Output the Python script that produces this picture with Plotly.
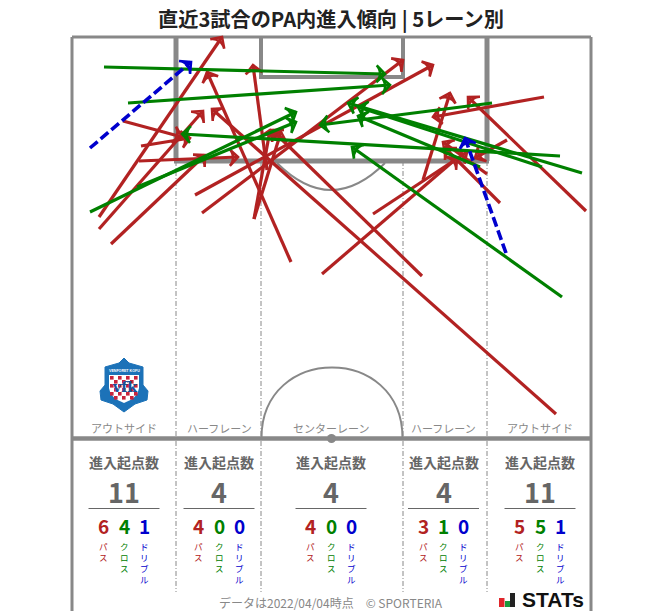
import plotly.graph_objects as go

TITLE = "直近3試合のPA内進入傾向 | 5レーン別"
FOOTER = "データは2022/04/04時点　© SPORTERIA"
LANES = ["アウトサイド", "ハーフレーン", "センターレーン", "ハーフレーン", "アウトサイド"]
LANE_CENTERS = [124, 219, 331, 443.5, 540]
TOTALS = [11, 4, 4, 4, 11]
PASS_COUNTS = [6, 4, 4, 3, 5]
CROSS_COUNTS = [4, 0, 0, 1, 5]
DRIBBLE_COUNTS = [1, 0, 0, 0, 1]

# arrows: (start x, start y, end x, end y) on the pitch, y downwards
PASSES = [
    (99, 217, 222, 37), (99, 229, 203, 111), (111, 244, 205, 155),
    (123, 121, 182, 137), (141, 146, 190, 138), (139, 161, 238, 157),
    (195, 195, 433, 65), (202, 213, 403, 60), (254, 219, 270, 130), (254, 219, 281, 132),
    (291, 262, 207, 72), (322, 274, 457, 158), (373, 214, 467, 152), (267, 170, 253, 65),
    (422, 276, 272, 130), (423, 180, 450, 93), (487, 174, 443, 142),
    (556, 414, 212, 109), (586, 211, 468, 97), (544, 97, 433, 117),
    (500, 203, 445, 148), (507, 140, 475, 158),
]
CROSSES = [
    (104, 67, 385, 74), (128, 103, 390, 85), (90, 212, 296, 112), (137, 187, 296, 122),
    (480, 167, 358, 116), (560, 156, 182, 134), (582, 173, 348, 103),
    (542, 167, 358, 107), (492, 103, 320, 125), (562, 297, 352, 147),
]
DRIBBLES = [(90, 148, 191, 62), (506, 253, 465, 138)]

RED, GREEN, BLUE = "#b22222", "#008000", "#0000cd"
GRAY = "#888888"
TXT = "#666666"
FONT = "Noto Sans CJK JP"

fig = go.Figure()
shapes, ann = [], []


def line(x0, y0, x1, y1, color=GRAY, width=3, dash="solid"):
    shapes.append(dict(type="line", x0=x0, y0=y0, x1=x1, y1=y1, layer="below",
                       line=dict(color=color, width=width, dash=dash)))


def text(x, y, s, size, color=TXT, bold=False, family=FONT, yanchor="middle"):
    ann.append(dict(x=x, y=y, text=f"<b>{s}</b>" if bold else str(s), showarrow=False,
                    xanchor="center", yanchor=yanchor, xref="x", yref="y",
                    font=dict(size=size, color=color, family=family)))


# pitch
for x in (176, 261, 403, 487):
    line(x, 161, x, 592, color="#888888", width=1, dash="5px,2px,1px,2px")
line(72, 37, 591, 37)
line(72, 37, 72, 611)
line(591, 37, 591, 611)
line(72, 438.5, 591, 438.5, width=4.5)
line(176, 37, 176, 161, width=5)
line(487, 37, 487, 161, width=5)
line(174, 161, 489, 161, width=5)
line(261, 37, 261, 77, width=4)
line(403, 37, 403, 77, width=4)
line(259, 77, 405, 77, width=4)
shapes.append(dict(type="path", layer="below", line=dict(color=GRAY, width=2),
                   path="M 277 163 Q 331 217 385 163"))
shapes.append(dict(type="path", layer="below", line=dict(color=GRAY, width=2),
                   path="M 261.5 438 C 261.5 344 402.5 344 402.5 438"))
shapes.append(dict(type="circle", x0=327, x1=336, y0=434, y1=443, layer="below",
                   fillcolor=GRAY, line=dict(width=0)))

# club badge (approximation)
shapes.append(dict(type="path", layer="below", fillcolor="#1c72b8", line=dict(color="#1c72b8", width=1),
                   path="M 124 358 L 129 363 L 143 367 L 143 385 L 148 391 L 147 400 L 135 404 "
                        "L 124 412 L 113 404 L 101 400 L 100 391 L 105 385 L 105 367 L 119 363 Z"))
shapes.append(dict(type="path", layer="below", fillcolor="white", line=dict(width=0),
                   path="M 109 375 L 139 375 L 139 388 Q 138 398 124 403 Q 110 398 109 388 Z"))
for r in range(6):
    for c in range(7):
        if (r + c) % 2 == 0:
            x0, y0 = 110 + c * 4, 376 + r * 4
            shapes.append(dict(type="rect", x0=x0, x1=x0 + 3.6, y0=y0, y1=y0 + 3.6, layer="below",
                               fillcolor="#c8243c", line=dict(width=0)))
text(124, 387, "vfk", 14, color="#17529b", bold=True, family="DejaVu Serif")
text(124, 370.5, "VENFORET KOFU", 3.6, color="white", bold=True, family="Liberation Sans")

# texts
text(331, 18, TITLE, 20.2, color="#222222", bold=True)
for i, cx in enumerate(LANE_CENTERS):
    text(cx, 428, LANES[i], 11, color=GRAY)
    text(cx, 462, "進入起点数", 14, bold=True)
    text(cx, 491, TOTALS[i], 27, bold=True)
    line(cx - 35.5, 508.5, cx + 35.5, 508.5, color="#666666", width=1)
    for off, val, lab, col in ((-20.5, PASS_COUNTS[i], "パス", RED),
                               (0, CROSS_COUNTS[i], "クロス", GREEN),
                               (20, DRIBBLE_COUNTS[i], "ドリブル", BLUE)):
        text(cx + off, 525, val, 19, color=col, bold=True)
        text(cx + off, 537.5, "<br>".join(lab), 8.5, color=col, yanchor="top")
text(331, 602, FOOTER, 12, color=GRAY)

# STATS logo
for x0, x1, y0, col in ((499, 504.5, 598, "#e0262b"), (505, 510, 601, "#1a9a3c"), (510, 515, 593, "#222222")):
    shapes.append(dict(type="rect", x0=x0, x1=x1, y0=y0, y1=607, fillcolor=col, line=dict(width=0), layer="above"))
text(553, 599, "STATs", 21, color="#111111", bold=True, family="Liberation Sans")


def arrows(rows, color, width, dash, size):
    for x0, y0, x1, y1 in rows:
        fig.add_trace(go.Scatter(
            x=[x0, x1], y=[y0, y1], mode="lines+markers", hoverinfo="skip", showlegend=False,
            line=dict(color=color, width=width, dash=dash),
            marker=dict(symbol=["circle", "arrow-wide-open"], size=[0.1, size], angleref="previous",
                        color=color, opacity=1, line=dict(color=color, width=2.6)),
        ))


arrows(PASSES, RED, 3.2, "solid", 12)
arrows(CROSSES, GREEN, 3.2, "solid", 12)
arrows(DRIBBLES, BLUE, 3.6, "10px,4px", 12)

fig.update_layout(
    width=663, height=611, margin=dict(l=0, r=0, t=0, b=0),
    paper_bgcolor="white", plot_bgcolor="white", shapes=shapes, annotations=ann,
    xaxis=dict(range=[0, 663], visible=False, fixedrange=True),
    yaxis=dict(range=[611, 0], visible=False, fixedrange=True),
    font=dict(family=FONT),
)
fig.write_html("out.html", config={"displayModeBar": False},
               post_script="document.body.style.margin='0';document.body.style.overflow='hidden';")
